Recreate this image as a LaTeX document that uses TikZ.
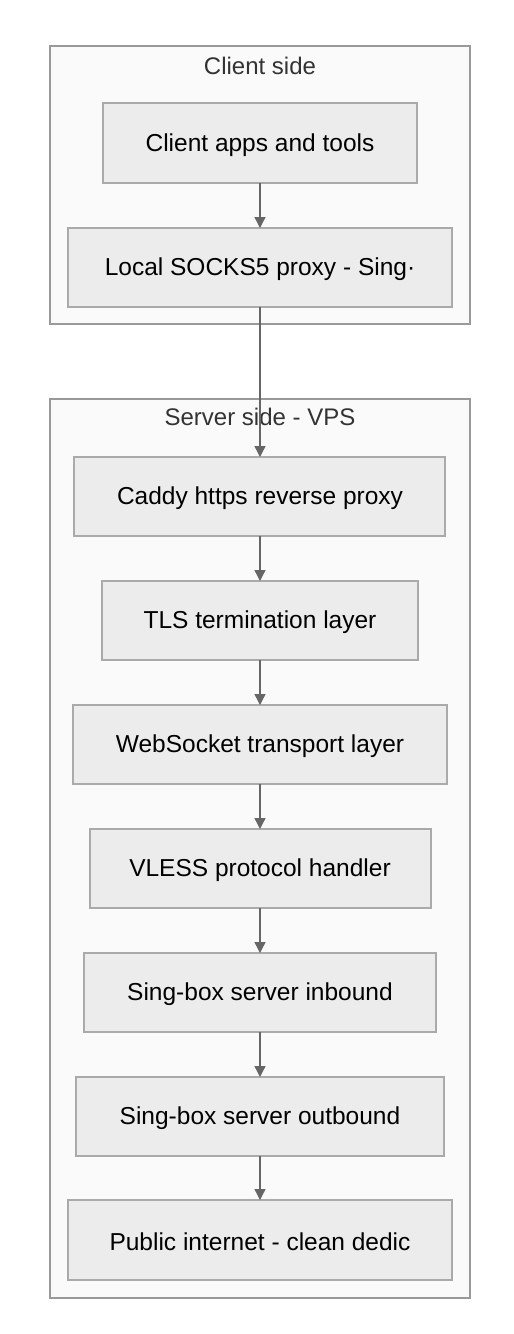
\documentclass[tikz,border=0pt]{standalone}
\usepackage{fontspec}
\setmainfont{Liberation Sans}
\usetikzlibrary{arrows.meta}
\definecolor{clfill}{HTML}{FAFAFA}
\definecolor{clline}{HTML}{999999}
\definecolor{nfill}{HTML}{ECECEC}
\definecolor{nline}{HTML}{AAAAAA}
\definecolor{eline}{HTML}{666666}
\definecolor{ttext}{HTML}{333333}
\tikzset{
  cluster/.style={draw=clline, fill=clfill, line width=1.3pt},
  ctitle/.style={text=ttext, font=\fontsize{24}{28}\selectfont, inner sep=0pt, anchor=center},
  box/.style={draw=nline, fill=nfill, line width=1.3pt},
  btext/.style={text=black, font=\fontsize{24.5}{28}\selectfont, inner sep=0pt, anchor=center, yshift=-2pt},
  flow/.style={draw=eline, line width=1.3pt, -{Triangle[length=11pt,width=11pt]}}
}
\newcommand{\mybox}[6]{% name, x1, y1, x2, y2, text
  \path[box] (#2,#3) rectangle (#4,#5);
  \node[btext] (#1) at (260,{(#3+#5)/2}) {#6};
  \coordinate (#1-n) at (260,#3);
  \coordinate (#1-s) at (260,#5);
}
\begin{document}
\begin{tikzpicture}[x=1pt,y=-1pt]
\useasboundingbox[fill=white] (0,0) rectangle (514,1334);
% clusters
\path[cluster] (50,46) rectangle (470,324);
\node[ctitle] (clientT) at (260,66) {Client side};
\path[cluster] (50,399) rectangle (470,1298);
\node[ctitle] (serverT) at (260,417) {Server side - VPS};
% nodes
\mybox{a}{103}{103}{417}{183}{Client apps and tools}
\mybox{b}{68}{228}{452}{307}{Local SOCKS5 proxy - Sing·}
\mybox{c}{74}{457}{445}{536}{Caddy https reverse proxy}
\mybox{d}{102}{581}{418}{660}{TLS termination layer}
\mybox{e}{73}{705}{447}{784}{WebSocket transport layer}
\mybox{f}{90}{829}{431}{908}{VLESS protocol handler}
\mybox{g}{84}{953}{436}{1032}{Sing-box server inbound}
\mybox{h}{76}{1077}{444}{1156}{Sing-box server outbound}
\mybox{i}{68}{1200}{452}{1280}{Public internet - clean dedic}
% edges
\draw[flow] (a-s) -- (b-n);
\draw[flow] (b-s) -- (c-n);
\draw[flow] (c-s) -- (d-n);
\draw[flow] (d-s) -- (e-n);
\draw[flow] (e-s) -- (f-n);
\draw[flow] (f-s) -- (g-n);
\draw[flow] (g-s) -- (h-n);
\draw[flow] (h-s) -- (i-n);
\end{tikzpicture}
\end{document}
